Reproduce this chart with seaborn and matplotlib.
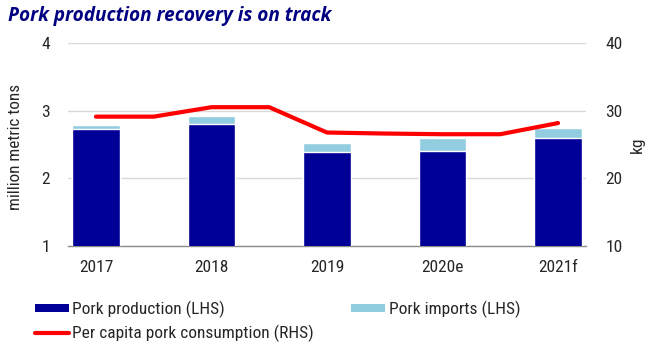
import matplotlib
matplotlib.use("Agg")
import matplotlib.pyplot as plt
import seaborn as sns
import pandas as pd
from matplotlib.patches import Patch
from matplotlib.lines import Line2D
from matplotlib import font_manager
from matplotlib.font_manager import FontProperties

# ---- data ----
years = ["2017", "2018", "2019", "2020e", "2021f"]
pork_production = [2.73, 2.80, 2.38, 2.40, 2.59]
pork_imports = [0.06, 0.12, 0.14, 0.19, 0.15]
# per capita consumption, plotted at half-year steps between categories
consumption_x = [0, 0.5, 1, 1.5, 2, 2.5, 3, 3.5, 4]
consumption_kg = [29.1, 29.1, 30.5, 30.5, 26.75, 26.6, 26.5, 26.5, 28.15]

NAVY = "#000096"
LIGHT = "#92CDDF"
RED = "#FF0000"
TXT = "#262626"

# look for a narrow (condensed) regular face; fall back to Lato
chosen = None
pref = ["Liberation Sans Narrow", "Roboto Condensed", "Open Sans Condensed"]
entries = font_manager.fontManager.ttflist
for p in pref:
    for f in entries:
        if f.name == p and f.style == "normal" and str(f.weight) in ("400", "normal", "regular"):
            chosen = f
            break
    if chosen:
        break
if chosen is None:
    for f in entries:
        if f.name == "Roboto" and f.style == "normal" and "ondensed" in f.fname \
                and "Bold" not in f.fname and "Light" not in f.fname \
                and "Italic" not in f.fname:
            chosen = f
            break
if chosen is not None:
    BASE = dict(fname=chosen.fname)
    FS = 12.5
    FSY = 12.3
else:
    BASE = dict(family=["Lato", "DejaVu Sans"])
    FS = 11.5
    FSY = 11


def fp(size):
    return FontProperties(size=size, **BASE)


sns.set_theme(style="white")
plt.rcParams["font.family"] = ["Lato", "DejaVu Sans"]

df = pd.DataFrame({
    "year": years,
    "production": pork_production,
    "total": [p + i for p, i in zip(pork_production, pork_imports)],
})
dline = pd.DataFrame({"x": consumption_x, "kg": consumption_kg})

W, H = 650, 346
fig = plt.figure(figsize=(6.5, 3.46), dpi=100)
ax = fig.add_axes([68 / W, 1 - 245.7 / H, (586 - 68) / W, (245.7 - 43) / H])

sns.barplot(data=df, x="year", y="total", color=LIGHT, width=0.41,
            saturation=1, ax=ax, zorder=2)
sns.barplot(data=df, x="year", y="production", color=NAVY, width=0.41,
            saturation=1, ax=ax, zorder=3)

ax2 = ax.twinx()
sns.lineplot(data=dline, x="x", y="kg", color=RED, linewidth=3, ax=ax2,
             zorder=5)

ax.set_ylim(1, 4)
ax.set_yticks([1, 2, 3, 4])
ax.set_xlim(-0.242, 4.242)
ax.set_xticks(range(len(years)))
ax.set_xticklabels(years)
ax.yaxis.grid(True, color="#D9D9D9", linewidth=1)
ax.set_axisbelow(True)
for s in ["top", "right", "left"]:
    ax.spines[s].set_visible(False)
ax.spines["bottom"].set_color("#8C8C8C")
ax.spines["bottom"].set_linewidth(1)
ax.set_xlabel("")
ax.set_ylabel("")
ax.tick_params(axis="y", length=0, pad=13, labelcolor=TXT)
ax.tick_params(axis="x", length=0, pad=10, labelcolor=TXT)

ax2.set_ylim(10, 40)
ax2.set_yticks([10, 20, 30, 40])
for s in ["top", "right", "left", "bottom"]:
    ax2.spines[s].set_visible(False)
ax2.tick_params(axis="y", length=0, pad=14, labelcolor=TXT)
ax2.set_ylabel("")
ax2.set_xlabel("")

for lab in ax.get_xticklabels() + ax.get_yticklabels() + ax2.get_yticklabels():
    lab.set_fontproperties(fp(FS))
for lab in ax.get_xticklabels():
    lab.set_horizontalalignment("center")

fig.text(16 / W, 1 - 147 / H, "million metric tons", fontproperties=fp(FSY),
         color=TXT, rotation=90, ha="center", va="center")
fig.text(637 / W, 1 - 145 / H, "kg", fontproperties=fp(FS), color=TXT,
         rotation=90, ha="center", va="center")

fig.text(8 / W, 1 - 16 / H, "Pork production recovery is on track", fontsize=13.7,
         fontweight="bold", fontstyle="italic", color="#000080",
         family=["Open Sans", "DejaVu Sans"], ha="left", va="center")

handles = [
    Patch(facecolor=NAVY, edgecolor="none"),
    Line2D([0], [0], color=RED, linewidth=3),
    Patch(facecolor=LIGHT, edgecolor="none"),
]
labels = ["Pork production (LHS)", "Per capita pork consumption (RHS)",
          "Pork imports (LHS)"]
leg = fig.legend(handles, labels, ncol=2, loc="upper left",
                 bbox_to_anchor=(35 / W, 1 - 301 / H), frameon=False,
                 prop=fp(FS), handlelength=34 / (FS * 100 / 72),
                 handleheight=0.37, handletextpad=0.2,
                 columnspacing=37 / (FS * 100 / 72), labelspacing=0.36,
                 borderpad=0, borderaxespad=0, labelcolor=TXT)

fig.savefig("out.png", dpi=100)
